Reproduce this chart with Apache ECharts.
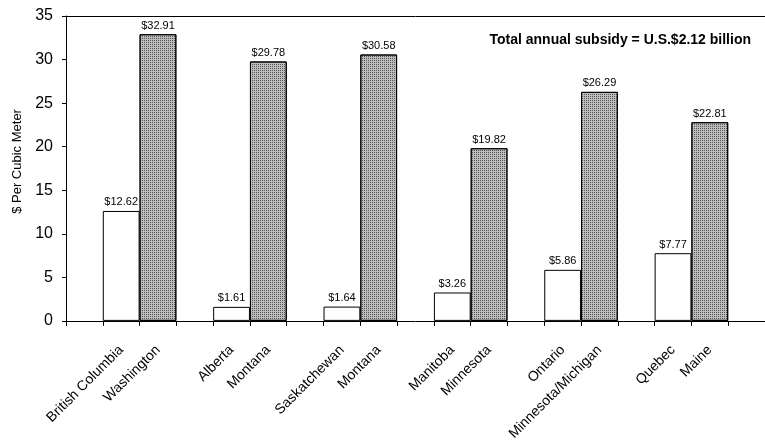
<!DOCTYPE html>
<html>
<head>
<meta charset="utf-8">
<script src="https://cdn.jsdelivr.net/npm/echarts@6/dist/echarts.min.js"></script>
<style>
html,body{margin:0;padding:0;background:#fff;}
#chart{width:765px;height:443px;}
</style>
</head>
<body>
<div id="chart"></div>
<script>
// Data
const provinces = ['British Columbia', 'Alberta', 'Saskatchewan', 'Manitoba', 'Ontario', 'Quebec'];
const states = ['Washington', 'Montana', 'Montana', 'Minnesota', 'Minnesota/Michigan', 'Maine'];
const provinceValues = [12.62, 1.61, 1.64, 3.26, 5.86, 7.77];
const stateValues = [32.91, 29.78, 30.58, 19.82, 26.29, 22.81];
const yAxisName = '$ Per Cubic Meter';
const titleText = 'Total annual subsidy = U.S.$2.12 billion';

// Build category slots: [gap, province, state] per pair, plus a trailing gap
const categories = [];
const provData = [];
const stateData = [];
provinces.forEach((p, i) => {
  categories.push('', p, states[i]);
  provData.push(null, provinceValues[i], null);
  stateData.push(null, null, stateValues[i]);
});
categories.push('');
provData.push(null);
stateData.push(null);

const FONT = '"Liberation Sans", Arial, sans-serif';
const fmt = p => '$' + p.value.toFixed(2);

const chart = echarts.init(document.getElementById('chart'), null, {renderer: 'canvas'});
chart.setOption({
  backgroundColor: '#fff',
  animation: false,
  title: {
    text: titleText,
    right: 9,
    top: 28,
    textStyle: {fontFamily: FONT, fontSize: 14, fontWeight: 'bold', color: '#000'}
  },
  grid: {left: 66, right: -11, top: 16, bottom: 122, containLabel: false},
  xAxis: [{
    type: 'category',
    data: categories,
    boundaryGap: true,
    axisLine: {show: true, lineStyle: {color: '#000', width: 1}},
    axisTick: {show: true, interval: 0, alignWithLabel: false, length: 5, lineStyle: {color: '#000'}},
    axisLabel: {
      interval: 0, rotate: 45, margin: 27,
      fontFamily: FONT, fontSize: 14, color: '#000'
    },
    splitLine: {show: false}
  }, {
    type: 'category',
    position: 'top',
    data: categories,
    axisLine: {show: true, lineStyle: {color: '#000', width: 1}},
    axisTick: {show: false},
    axisLabel: {show: false},
    splitLine: {show: false}
  }],
  yAxis: {
    type: 'value',
    min: 0, max: 35, interval: 5,
    name: yAxisName,
    nameLocation: 'middle',
    nameGap: 32,
    nameTextStyle: {fontFamily: FONT, fontSize: 13, color: '#000', padding: [0, 0, 0, 14]},
    axisLine: {show: true, lineStyle: {color: '#000', width: 1}},
    axisTick: {show: true, length: 4, lineStyle: {color: '#000'}},
    axisLabel: {fontFamily: FONT, fontSize: 16, color: '#000', margin: 13},
    splitLine: {show: false}
  },
  series: [{
    name: 'Province',
    type: 'bar',
    data: provData,
    barWidth: '100%',
    barGap: '-100%',
    itemStyle: {color: '#fff', borderColor: '#000', borderWidth: 1},
    label: {show: true, position: 'top', distance: 3, formatter: fmt,
      fontFamily: FONT, fontSize: 11, color: '#000'}
  }, {
    name: 'State',
    type: 'bar',
    data: stateData,
    barWidth: '100%',
    barGap: '-100%',
    itemStyle: {
      color: '#bdbdbd', borderColor: '#000', borderWidth: 1,
      decal: {symbol: 'rect', symbolSize: 1, dashArrayX: [1, 1], dashArrayY: [1, 1], color: '#555', rotation: 0}
    },
    label: {show: true, position: 'top', distance: 3, formatter: fmt,
      fontFamily: FONT, fontSize: 11, color: '#000'}
  }]
});
</script>
</body>
</html>
